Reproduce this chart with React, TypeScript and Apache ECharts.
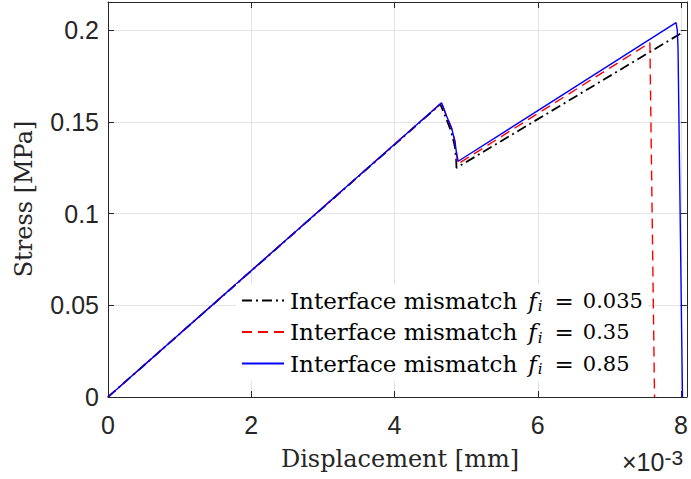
import React, { useEffect, useRef } from 'react';
import * as echarts from 'echarts';

// Displacement in units of 1e-3 mm, stress in MPa
const labels = ['0.035', '0.35', '0.85'];
const colors = ['#000000', '#ff0000', '#0000ff'];

const dispA = [0, 4.64, 4.71, 4.79, 4.84, 4.86, 4.865, 7.99];
const stressA = [0, 0.1597, 0.153, 0.145, 0.137, 0.13, 0.125, 0.1982];

const dispB = [0, 4.657, 4.72, 4.796, 4.843, 4.865, 4.88, 7.565, 7.63];
const stressB = [0, 0.1605, 0.154, 0.1468, 0.1395, 0.1332, 0.127, 0.1933, 0];

const dispC = [0, 4.657, 4.718, 4.796, 4.843, 4.865, 4.889, 7.93, 7.948, 7.958, 8.02];
const stressC = [0, 0.1605, 0.1541, 0.1468, 0.1395, 0.1332, 0.1286, 0.2042, 0.2, 0.19, 0];

const xTicks = [0, 2, 4, 6, 8];
const yTicks = [0, 0.05, 0.1, 0.15, 0.2];

const zip = (xs: number[], ys: number[]) => xs.map((x, i) => [x, ys[i]]);

export default function App() {
  const ref = useRef<HTMLDivElement>(null);
  useEffect(() => {
    const chart = echarts.init(ref.current!, null, { renderer: 'svg' });
    const axisColor = '#262626';
    const gridColor = '#e3e3e3';
    const sans = 'Liberation Sans';
    const serif = 'DejaVu Serif';
    const pick = (ticks: number[]) => (v: number) => {
      const t = ticks.find((k) => Math.abs(k - v) < 1e-9);
      return t === undefined ? '' : String(t);
    };
    const baseAxis = {
      type: 'value',
      axisLine: { show: true, onZero: false, lineStyle: { color: axisColor, width: 1 } },
      axisTick: { show: true, inside: true, length: 6, lineStyle: { color: axisColor, width: 1 } },
    };
    const seriesData = [zip(dispA, stressA), zip(dispB, stressB), zip(dispC, stressC)];
    const lineTypes: any[] = [[10, 4, 2, 4], [10, 6], 'solid'];
    const widths = [1.8, 1.4, 1.4];
    chart.setOption({
      animation: false,
      grid: { left: 108, right: 1, top: 2, bottom: 82 },
      xAxis: [
        {
          ...baseAxis,
          position: 'bottom',
          min: 0,
          max: 8.08,
          interval: 2,
          axisLabel: { color: axisColor, fontFamily: sans, fontSize: 25, margin: 15, formatter: pick(xTicks) },
          splitLine: { show: true, lineStyle: { color: gridColor, width: 1 } },
        },
        {
          ...baseAxis,
          position: 'top',
          min: 0,
          max: 8.08,
          interval: 2,
          axisLabel: { show: false },
          splitLine: { show: false },
        },
      ],
      yAxis: [
        {
          ...baseAxis,
          position: 'left',
          min: 0,
          max: 0.2155,
          interval: 0.05,
          axisLabel: { color: axisColor, fontFamily: sans, fontSize: 25, margin: 9, formatter: pick(yTicks) },
          splitLine: { show: true, lineStyle: { color: gridColor, width: 1 } },
        },
        {
          ...baseAxis,
          position: 'right',
          min: 0,
          max: 0.2155,
          interval: 0.05,
          axisLabel: { show: false },
          splitLine: { show: false },
        },
      ],
      legend: {
        orient: 'vertical',
        left: 236,
        top: 284,
        padding: [5, 5, 5, 5],
        backgroundColor: '#ffffff',
        itemWidth: 42,
        itemHeight: 14,
        itemGap: 7,
        selectedMode: false,
        itemStyle: { opacity: 0, borderWidth: 0 },
        data: labels,
        formatter: (name: string) => `{n|Interface mismatch}{f|f}{s|i}{e|=}{v|${name}}`,
        textStyle: {
          padding: [0, 0, 0, 1],
          rich: {
            n: { fontFamily: serif, fontSize: 23, color: '#000', lineHeight: 26 },
            f: { fontFamily: serif, fontStyle: 'italic', fontSize: 23, color: '#000', lineHeight: 26, padding: [0, 1, 0, 11] },
            s: { fontFamily: serif, fontStyle: 'italic', fontSize: 15, color: '#000', lineHeight: 12, verticalAlign: 'bottom', padding: [0, 0, 0, 0] },
            e: { fontFamily: serif, fontSize: 23, color: '#000', lineHeight: 26, padding: [0, 9, 0, 12] },
            v: { fontFamily: serif, fontSize: 21, color: '#000', lineHeight: 26 },
          },
        },
      },
      series: labels.map((name, i) => ({
        name,
        type: 'line',
        data: seriesData[i],
        symbol: 'none',
        color: colors[i],
        lineStyle: { color: colors[i], width: widths[i], type: lineTypes[i] },
        clip: true,
      })),
      graphic: [
        {
          type: 'text',
          x: 400,
          y: 459,
          style: { text: 'Displacement [mm]', font: `24px "${serif}"`, fill: '#262626', align: 'center', verticalAlign: 'middle' },
        },
        {
          type: 'text',
          x: 24,
          y: 199,
          rotation: Math.PI / 2,
          style: { text: 'Stress [MPa]', font: `24px "${serif}"`, fill: '#262626', align: 'center', verticalAlign: 'middle' },
        },
        {
          type: 'text',
          x: 622,
          y: 462,
          style: {
            text: '{a|×10}{b|-3}',
            align: 'left',
            verticalAlign: 'middle',
            rich: {
              a: { fontFamily: sans, fontSize: 25, fill: '#262626', lineHeight: 30 },
              b: { fontFamily: sans, fontSize: 21, fill: '#262626', lineHeight: 14, verticalAlign: 'top' },
            },
          },
        },
      ],
    });
    return () => chart.dispose();
  }, []);
  return <div ref={ref} style={{ width: 691, height: 479, position: 'absolute', left: 0, top: 0 }} />;
}
